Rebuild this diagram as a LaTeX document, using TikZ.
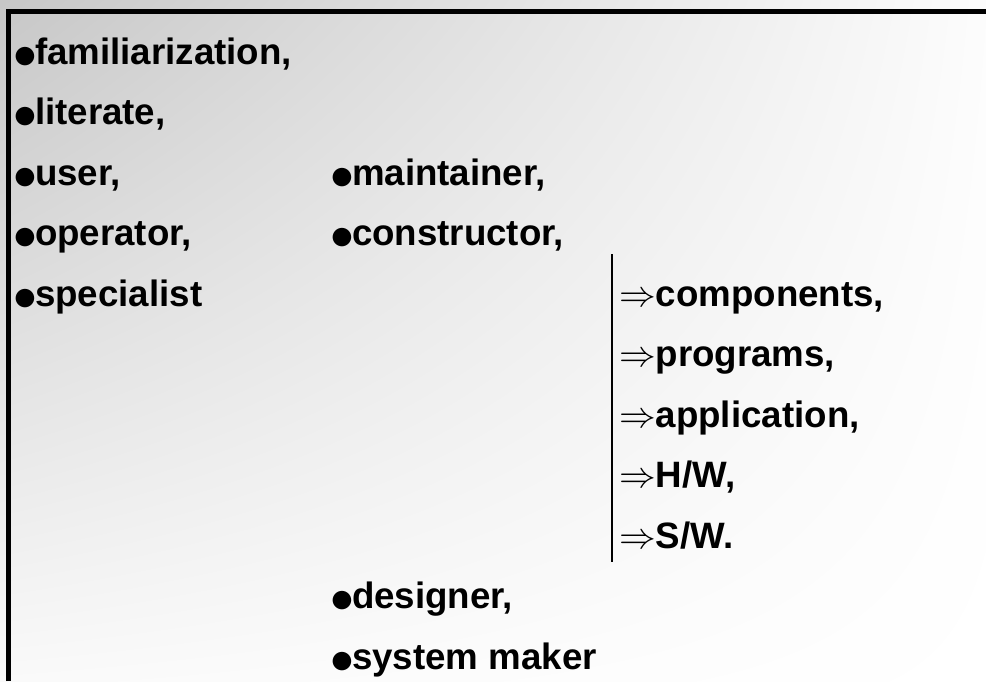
\documentclass[tikz,border=0pt]{standalone}
\usepackage{fix-cm}
\usepackage{graphicx}
\usepackage{fontspec}
\setmainfont{Liberation Sans}
\usepackage{tikz}
\usetikzlibrary{positioning, shadings}

\newcommand{\bul}{\makebox[10pt][c]{\raisebox{-2.2pt}{\scalebox{1.3}{$\bullet$}}}}

\begin{document}
\begin{tikzpicture}[
    x=0.5pt, y=-0.5pt,
    node distance=0pt,
    item/.style={inner sep=0pt, outer sep=0pt, text height=21pt, text depth=9.25pt, font=\fontsize{18.35}{22}\selectfont\bfseries},
    frame/.style={line width=2.5pt},
    bar/.style={line width=1pt},
]
    % background and frame
    \shade[upper left=black!22, upper right=black!1, lower left=black!2, lower right=white] (0,0) rectangle (986,681);
    \useasboundingbox (0,0) rectangle (986,681);
    \draw[frame] (8.5,681) -- (8.5,11.5) -- (986,11.5);

    % left column
    \node[item, anchor=base west] at (15,64) (fam) {\bul familiarization,};
    \node[item, below=of fam.south west, anchor=north west] (lit) {\bul literate,};
    \node[item, below=of lit.south west, anchor=north west] (user) {\bul user,};
    \node[item, below=of user.south west, anchor=north west] (oper) {\bul operator,};
    \node[item, below=of oper.south west, anchor=north west] (spec) {\bul specialist};

    % middle column
    \node[item, anchor=base west] at (332,185) (maint) {\bul maintainer,};
    \node[item, below=of maint.south west, anchor=north west] (cons) {\bul constructor,};
    \node[item, anchor=base west] at (332,608.5) (design) {\bul designer,};
    \node[item, below=of design.south west, anchor=north west] (sysmk) {\bul system maker};

    % right column
    \node[item, anchor=base west] at (619,306) (comp) {$\Rightarrow$components,};
    \node[item, below=of comp.south west, anchor=north west] (prog) {$\Rightarrow$programs,};
    \node[item, below=of prog.south west, anchor=north west] (appl) {$\Rightarrow$application,};
    \node[item, below=of appl.south west, anchor=north west] (hw) {$\Rightarrow$H/W,};
    \node[item, below=of hw.south west, anchor=north west] (sw) {$\Rightarrow$S/W.};

    \coordinate (bartop) at (612,254);
    \coordinate (barbot) at (612,562);
    \draw[bar] (bartop) -- (barbot);
\end{tikzpicture}
\end{document}
